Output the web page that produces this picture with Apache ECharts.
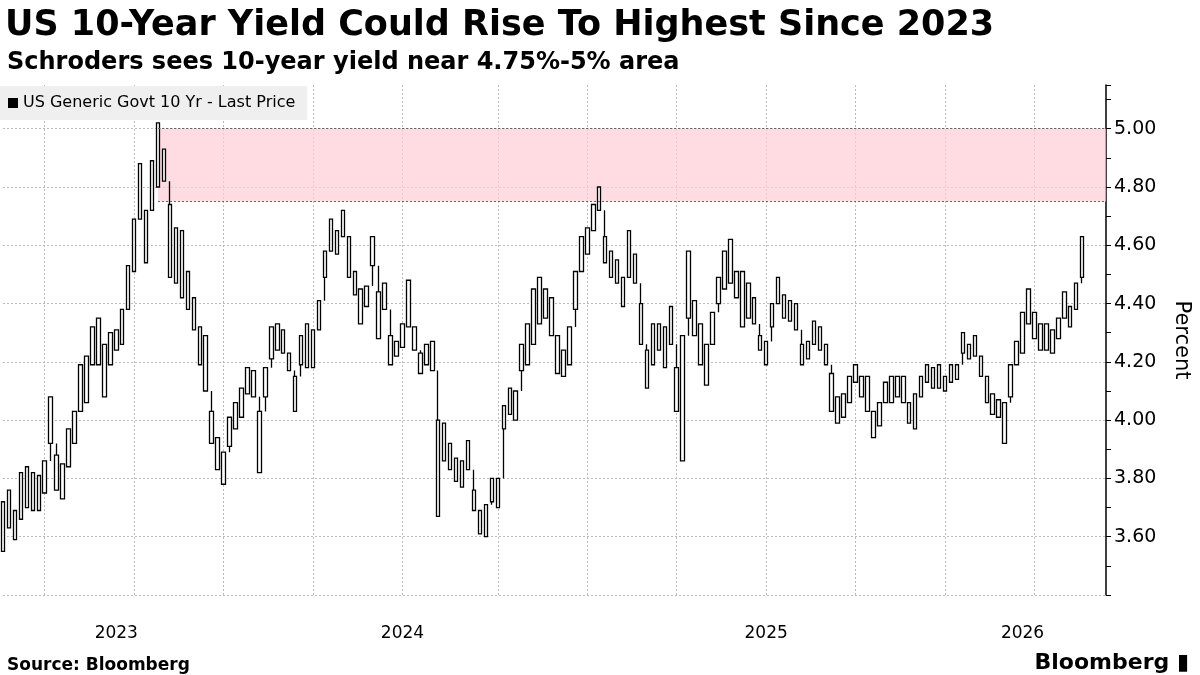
<!DOCTYPE html>
<html>
<head>
<meta charset="utf-8">
<script src="https://cdn.jsdelivr.net/npm/echarts@6/dist/echarts.min.js"></script>
<style>
html,body{margin:0;padding:0;background:#fff;}
#echart{width:1200px;height:675px;}
</style>
</head>
<body>
<div id="echart"></div>
<script>
// lows and highs, one bar per ~6px
const lows = [3.55,3.63,3.59,3.66,3.70,3.69,3.69,3.75,3.92,3.76,3.73,3.84,3.92,4.03,4.06,4.19,4.19,4.08,4.19,4.24,
  4.26,4.38,4.51,4.69,4.54,4.72,4.80,4.82,4.49,4.47,4.42,4.38,4.31,4.19,4.10,3.92,3.83,3.78,3.91,3.97,
  4.01,4.09,4.08,3.82,4.08,4.21,4.24,4.23,4.17,4.03,4.19,4.18,4.18,4.31,4.49,4.58,4.57,4.63,4.49,4.43,
  4.33,4.39,4.53,4.28,4.38,4.19,4.22,4.25,4.32,4.24,4.16,4.19,4.17,3.67,3.86,3.83,3.79,3.77,3.83,3.69,
  3.61,3.60,3.72,3.70,3.97,4.02,4.00,4.17,4.19,4.26,4.33,4.35,4.29,4.16,4.15,4.19,4.38,4.51,4.57,4.65,
  4.72,4.54,4.49,4.47,4.39,4.49,4.47,4.26,4.11,4.19,4.24,4.18,4.26,4.03,3.86,4.35,4.29,4.19,4.12,4.26,
  4.40,4.45,4.47,4.42,4.32,4.35,4.33,4.24,4.19,4.32,4.40,4.35,4.34,4.31,4.19,4.21,4.26,4.24,4.19,4.03,
  3.99,4.01,4.06,4.13,4.08,4.03,3.94,3.98,4.06,4.06,4.08,4.06,3.99,3.97,4.08,4.13,4.11,4.11,4.10,4.13,
  4.14,4.23,4.21,4.22,4.15,4.06,4.02,4.01,3.92,4.08,4.19,4.23,4.33,4.28,4.24,4.24,4.23,4.28,4.35,4.32,
  4.38,4.49];
const highs = [3.72,3.76,3.69,3.82,3.84,3.82,3.81,3.86,4.08,3.88,3.85,3.97,4.03,4.19,4.22,4.32,4.35,4.26,4.30,4.31,
  4.38,4.53,4.69,4.88,4.72,4.89,5.02,4.93,4.74,4.66,4.65,4.51,4.42,4.32,4.29,4.03,3.94,3.89,4.01,4.06,
  4.11,4.18,4.17,4.03,4.18,4.32,4.33,4.31,4.23,4.15,4.29,4.33,4.31,4.41,4.58,4.69,4.65,4.72,4.63,4.51,
  4.45,4.46,4.63,4.44,4.47,4.29,4.27,4.33,4.48,4.32,4.23,4.26,4.27,4.00,3.99,3.92,3.87,3.86,3.93,3.76,
  3.69,3.71,3.80,3.80,4.05,4.11,4.10,4.26,4.33,4.45,4.49,4.45,4.42,4.29,4.24,4.32,4.51,4.63,4.66,4.74,
  4.80,4.63,4.58,4.55,4.49,4.65,4.57,4.40,4.24,4.33,4.33,4.32,4.39,4.18,4.29,4.58,4.41,4.33,4.26,4.37,
  4.49,4.58,4.62,4.51,4.51,4.47,4.42,4.29,4.27,4.40,4.49,4.43,4.41,4.40,4.26,4.27,4.34,4.32,4.26,4.16,
  4.08,4.09,4.15,4.19,4.15,4.15,4.03,4.06,4.13,4.15,4.15,4.15,4.06,4.09,4.15,4.19,4.18,4.19,4.15,4.19,
  4.19,4.30,4.26,4.29,4.22,4.15,4.09,4.07,4.06,4.19,4.27,4.37,4.45,4.37,4.33,4.33,4.31,4.35,4.44,4.39,
  4.47,4.63];
const nSlots = 186;
const quarterIdx = [7, 22, 37, 52, 67, 83, 98, 113, 128, 143, 158, 173];
const yearIdx = [19, 67, 128, 171];
const yearLabels = ['2023', '2024', '2025', '2026'];
const bandLow = 4.75, bandHigh = 5.00, bandStart = 26;

const cats = [];
for (let i = 0; i < nSlots; i++) cats.push(String(i));
// body = the bar's own range; wick stretched so it meets the previous bar
const candles = lows.map((lo, i) => {
    let wl = lo, wh = highs[i];
    if (i > 0) {
        if (lo > highs[i - 1]) wl = highs[i - 1];
        if (highs[i] < lows[i - 1]) wh = lows[i - 1];
    }
    return [lo, highs[i], wl, wh];
});

const chart = echarts.init(document.getElementById('echart'));
const font = 'DejaVu Sans';

chart.setOption({
    backgroundColor: '#fff',
    animation: false,
    textStyle: { fontFamily: font },
    title: [
        { text: 'US 10-Year Yield Could Rise To Highest Since 2023', left: 0, top: 3,
          textStyle: { fontSize: 35, fontWeight: 'bold', color: '#000', fontFamily: font } },
        { text: 'Schroders sees 10-year yield near 4.75%-5% area', left: 2, top: 46,
          textStyle: { fontSize: 24, fontWeight: 'bold', color: '#000', fontFamily: font } },
        { text: 'Source: Bloomberg', left: 2, top: 652,
          textStyle: { fontSize: 17, fontWeight: 'bold', color: '#000', fontFamily: font } },
        { text: 'Bloomberg ▮', right: 6, top: 647,
          textStyle: { fontSize: 22, fontWeight: 'bold', color: '#000', fontFamily: font } }
    ],
    legend: {
        left: 0, top: 86, itemWidth: 10, itemHeight: 10, icon: 'rect',
        backgroundColor: '#efefef', padding: [9, 12, 9, 8], itemGap: 4,
        itemStyle: { color: '#000', borderWidth: 0 },
        textStyle: { fontSize: 16, color: '#000', fontFamily: font },
        data: ['US Generic Govt 10 Yr - Last Price']
    },
    grid: { left: 0, right: 86, top: 85, bottom: 80 },
    xAxis: {
        type: 'category', data: cats, boundaryGap: false,
        axisLine: { show: false }, axisTick: { show: false },
        axisLabel: {
            interval: 0, margin: 30, fontSize: 17, color: '#000',
            formatter: (v, i) => { const k = yearIdx.indexOf(i); return k >= 0 ? yearLabels[k] : ''; }
        },
        splitLine: {
            show: true, interval: (i) => quarterIdx.indexOf(i) >= 0,
            lineStyle: { color: '#bbb', type: [2, 2], width: 1 }
        }
    },
    yAxis: {
        type: 'value', position: 'right', min: 3.4, max: 5.15, interval: 0.2,
        name: 'Percent', nameLocation: 'middle', nameGap: 65, nameRotate: -90,
        nameTextStyle: { fontSize: 21, color: '#000' },
        axisLine: { show: true, lineStyle: { color: '#000', width: 1.5 } },
        axisTick: { show: true, inside: false, length: 5, lineStyle: { color: '#000' } },
        minorTick: { show: true, splitNumber: 2, length: 5, lineStyle: { color: '#000' } },
        axisLabel: { fontSize: 19, color: '#000', margin: 8,
            formatter: v => (v < 3.5 || v > 5.05 ? '' : v.toFixed(2)) },
        splitLine: { show: true, showMaxLine: false, lineStyle: { color: '#bbb', type: [2, 2] } }
    },
    series: [{
        name: 'US Generic Govt 10 Yr - Last Price',
        type: 'candlestick',
        data: candles,
        barWidth: 4,
        itemStyle: { color: '#fff', color0: '#fff', borderColor: '#000', borderColor0: '#000', borderWidth: 1.3 },
        markArea: {
            silent: true,
            itemStyle: { color: 'rgba(253,205,213,0.7)' },
            data: [[{ xAxis: String(bandStart), yAxis: bandLow }, { xAxis: String(nSlots - 1), yAxis: bandHigh }]]
        },
        markLine: {
            silent: true, symbol: 'none', label: { show: false },
            lineStyle: { color: '#666', type: [2, 2], width: 1 },
            data: [
                [{ xAxis: String(bandStart), yAxis: bandLow }, { xAxis: String(nSlots - 1), yAxis: bandLow }],
                [{ xAxis: String(bandStart), yAxis: bandHigh }, { xAxis: String(nSlots - 1), yAxis: bandHigh }]
            ]
        }
    }]
});
</script>
</body>
</html>
